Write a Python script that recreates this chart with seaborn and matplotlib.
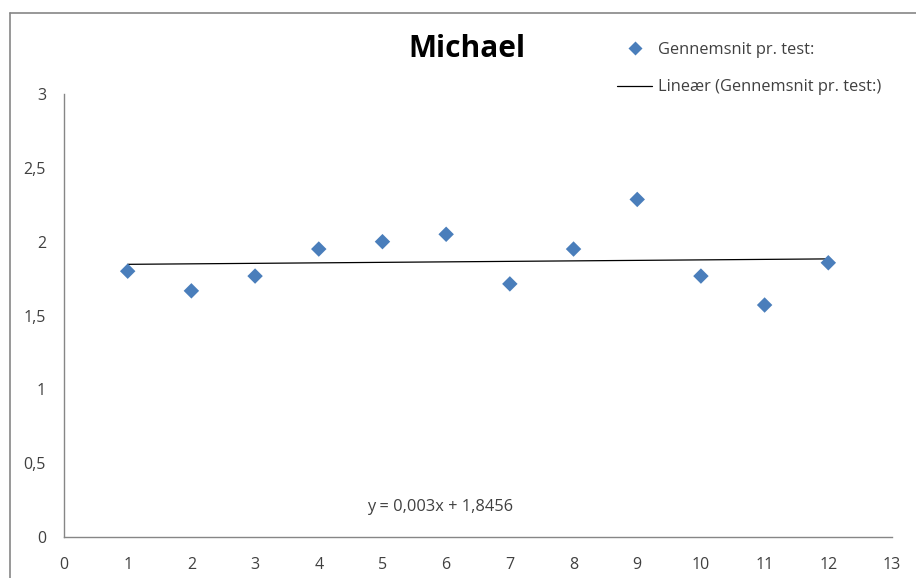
import numpy as np
import pandas as pd
import seaborn as sns
import matplotlib.pyplot as plt
from matplotlib.lines import Line2D
from matplotlib.ticker import FuncFormatter

test_nr = [1, 2, 3, 4, 5, 6, 7, 8, 9, 10, 11, 12]
gennemsnit = [1.8, 1.667, 1.767, 1.95, 2.0, 2.05, 1.714, 1.95, 2.286, 1.767, 1.571, 1.857]
equation = "y = 0,003x + 1,8456"

df = pd.DataFrame({"test": test_nr, "snit": gennemsnit})

sns.set_style("white")
plt.rcParams['font.family'] = ['Open Sans', 'DejaVu Sans']

fig = plt.figure(figsize=(9.16, 5.78), dpi=100)
ax = fig.add_axes([64 / 916, 41 / 578, 828 / 916, 443 / 578])

blue = "#4a7ebb"
grey = "#868686"

sns.scatterplot(data=df, x="test", y="snit", marker="D", s=62, color=blue,
                edgecolor="none", ax=ax, zorder=3)

# linear trendline
z = np.polyfit(df["test"], df["snit"], deg=1)
p = np.poly1d(z)
xs = np.array([df["test"].min(), df["test"].max()])
ax.plot(xs, p(xs), color="black", linewidth=0.9, zorder=2)

ax.set_xlim(0, 13)
ax.set_ylim(0, 3)
ax.set_xticks(range(0, 14))
ax.set_yticks(np.arange(0, 3.01, 0.5))
ax.yaxis.set_major_formatter(FuncFormatter(lambda v, _: f"{v:g}".replace(".", ",")))
ax.set_xlabel("")
ax.set_ylabel("")

sns.despine(ax=ax)
for s in ["left", "bottom"]:
    ax.spines[s].set_color(grey)
    ax.spines[s].set_linewidth(1.0)
ax.tick_params(axis="both", direction="out", length=4, width=1, color=grey,
               labelsize=11.5, labelcolor="#404040")
ax.tick_params(axis="x", pad=10.5)
ax.tick_params(axis="y", pad=9)

ax.text(5.9, 0.2, equation, ha="center", va="center", fontsize=11.8, color="#404040")

fig.text(467 / 916, 1 - 49 / 578, "Michael", ha="center", va="center",
         fontsize=21.5, fontweight="bold", color="black")

# legend
handles = [Line2D([], [], marker="D", linestyle="none", color=blue, markersize=7.5,
                  markeredgecolor="none"),
           Line2D([], [], color="black", linewidth=0.9)]
labels = ["Gennemsnit pr. test:", "Lineær (Gennemsnit pr. test:)"]
fig.legend(handles, labels, loc="upper left", bbox_to_anchor=(617 / 916, 1 - 42 / 578),
           frameon=False, fontsize=11.8, handlelength=2.15, handletextpad=0.35,
           labelspacing=1.3, borderaxespad=0, borderpad=0, labelcolor="#404040")

# outer chart frame
fig.add_artist(Line2D([9.5 / 916, 9.5 / 916], [0, 1 - 13 / 578], color=grey, linewidth=1.2))
fig.add_artist(Line2D([9.5 / 916, 1], [1 - 13 / 578, 1 - 13 / 578], color=grey, linewidth=1.2))

fig.savefig("out.png", dpi=100)
